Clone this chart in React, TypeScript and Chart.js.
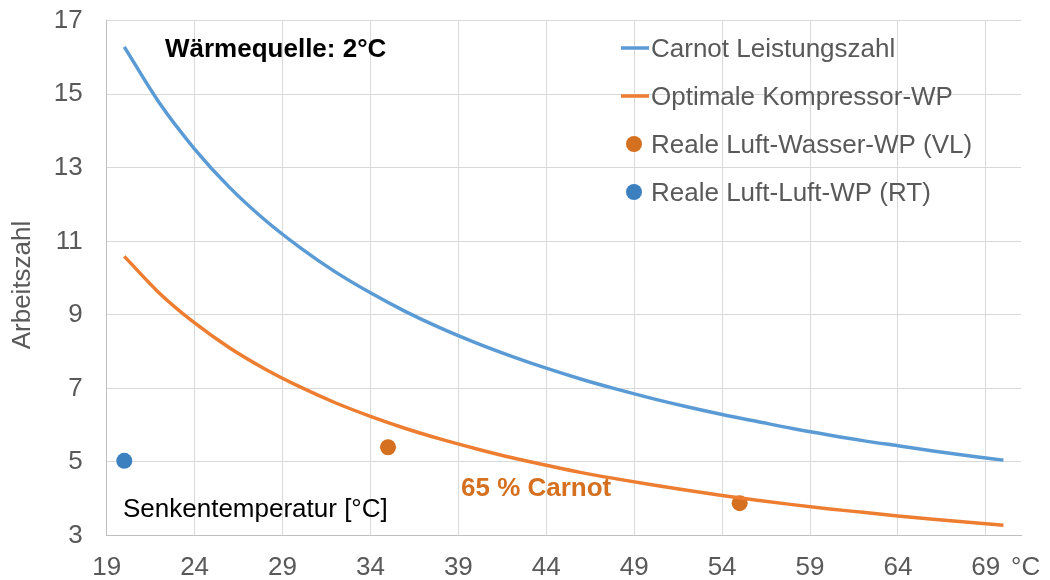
import { useEffect, useRef } from "react";
import { Chart, registerables } from "chart.js";

Chart.register(...registerables);

const FONT = '"Liberation Sans", Arial, Helvetica, sans-serif';

// Sink temperature (°C) and coefficients of performance
const sinkTemps = [20, 22, 24, 26, 28, 30, 32, 34, 36, 38, 40, 42, 44, 46, 48, 50, 52, 54, 56, 58, 60, 62, 64, 66, 68, 70];
const carnotCOP = [16.29, 14.76, 13.51, 12.46, 11.58, 10.83, 10.17, 9.6, 9.09, 8.64, 8.24, 7.88, 7.55, 7.25, 6.98, 6.73, 6.5, 6.29, 6.1, 5.91, 5.74, 5.58, 5.44, 5.3, 5.17, 5.05];
const optimalCOP = [10.59, 9.59, 8.78, 8.1, 7.53, 7.04, 6.61, 6.24, 5.91, 5.62, 5.36, 5.12, 4.91, 4.71, 4.54, 4.38, 4.23, 4.09, 3.96, 3.84, 3.73, 3.63, 3.53, 3.44, 3.36, 3.28];
const airWaterTemps = [35, 55];
const airWaterCOP = [5.4, 3.88];
const airAirTemps = [20];
const airAirCOP = [5.03];

const xTicks = [19, 24, 29, 34, 39, 44, 49, 54, 59, 64, 69];
const yTicks = [3, 5, 7, 9, 11, 13, 15, 17];

const seriesLabels = [
  "Carnot Leistungszahl",
  "Optimale Kompressor-WP",
  "Reale Luft-Wasser-WP (VL)",
  "Reale Luft-Luft-WP (RT)",
];

const BLUE_LINE = "#5B9BD5";
const ORANGE_LINE = "#ED7D31";
const ORANGE_DOT = "#D4701F";
const BLUE_DOT = "#3C80C0";
const GRAY_TEXT = "#595959";

const zip = (xs: number[], ys: number[]) => xs.map((x, i) => ({ x, y: ys[i] }));

const annotationPlugin = {
  id: "annotations",
  afterDatasetsDraw(chart: any) {
    const ctx = chart.ctx as CanvasRenderingContext2D;
    ctx.save();
    ctx.textBaseline = "alphabetic";
    ctx.textAlign = "left";

    ctx.fillStyle = "#000000";
    ctx.font = `bold 26px ${FONT}`;
    ctx.fillText("Wärmequelle: 2°C", 165, 57);

    ctx.font = `26px ${FONT}`;
    ctx.fillText("Senkentemperatur [°C]", 123, 517);

    ctx.fillStyle = ORANGE_DOT;
    ctx.font = `bold 26px ${FONT}`;
    ctx.fillText("65 % Carnot", 461, 496);

    // x axis unit
    ctx.fillStyle = GRAY_TEXT;
    ctx.font = `26px ${FONT}`;
    ctx.fillText("°C", 1011, 575);

    // y axis title
    ctx.save();
    ctx.translate(23, 285);
    ctx.rotate(-Math.PI / 2);
    ctx.textAlign = "center";
    ctx.textBaseline = "middle";
    ctx.fillStyle = GRAY_TEXT;
    ctx.font = `26px ${FONT}`;
    ctx.fillText("Arbeitszahl", 0, 0);
    ctx.restore();

    // legend
    const rows = [57, 105, 153, 201];
    ctx.font = `26px ${FONT}`;
    seriesLabels.forEach((label, i) => {
      const base = rows[i];
      const mid = base - 9;
      if (i < 2) {
        ctx.strokeStyle = i === 0 ? BLUE_LINE : ORANGE_LINE;
        ctx.lineWidth = 3.5;
        ctx.beginPath();
        ctx.moveTo(621, mid);
        ctx.lineTo(649, mid);
        ctx.stroke();
      } else {
        ctx.fillStyle = i === 2 ? ORANGE_DOT : BLUE_DOT;
        ctx.beginPath();
        ctx.arc(634, mid, 8, 0, Math.PI * 2);
        ctx.fill();
      }
      ctx.fillStyle = GRAY_TEXT;
      ctx.fillText(label, 651, base);
    });
    ctx.restore();
  },
};

export default function App() {
  const canvasRef = useRef<HTMLCanvasElement | null>(null);

  useEffect(() => {
    if (!canvasRef.current) return;
    const chart = new Chart(canvasRef.current, {
      type: "line",
      data: {
        datasets: [
          {
            label: seriesLabels[0],
            data: zip(sinkTemps, carnotCOP),
            borderColor: BLUE_LINE,
            borderWidth: 3.5,
            pointRadius: 0,
            tension: 0.4,
            cubicInterpolationMode: "monotone",
            fill: false,
          },
          {
            label: seriesLabels[1],
            data: zip(sinkTemps, optimalCOP),
            borderColor: ORANGE_LINE,
            borderWidth: 3.5,
            pointRadius: 0,
            tension: 0.4,
            cubicInterpolationMode: "monotone",
            fill: false,
          },
          {
            label: seriesLabels[2],
            data: zip(airWaterTemps, airWaterCOP),
            showLine: false,
            pointRadius: 8,
            pointBackgroundColor: ORANGE_DOT,
            pointBorderWidth: 0,
            borderColor: ORANGE_DOT,
          },
          {
            label: seriesLabels[3],
            data: zip(airAirTemps, airAirCOP),
            showLine: false,
            pointRadius: 8,
            pointBackgroundColor: BLUE_DOT,
            pointBorderWidth: 0,
            borderColor: BLUE_DOT,
          },
        ],
      },
      options: {
        animation: false,
        responsive: true,
        maintainAspectRatio: false,
        layout: { padding: { top: 20.7, right: 29, left: 0, bottom: 0 } },
        plugins: {
          legend: { display: false },
          tooltip: { enabled: false },
        },
        scales: {
          x: {
            type: "linear",
            min: 19,
            max: 71,
            afterBuildTicks: (scale: any) => {
              scale.ticks = xTicks.map((v) => ({ value: v }));
            },
            afterFit: (scale: any) => {
              scale.height = 44.5;
              scale.paddingLeft = 0;
              scale.paddingRight = 0;
            },
            ticks: {
              autoSkip: false,
              maxRotation: 0,
              padding: 17,
              color: GRAY_TEXT,
              font: { family: FONT, size: 26 },
              callback: (v: any) => String(v),
            },
            grid: { drawTicks: false, color: "#D9D9D9", lineWidth: 1 },
            border: { color: "#BFBFBF", width: 1 },
          },
          y: {
            type: "linear",
            min: 3,
            max: 17,
            afterBuildTicks: (scale: any) => {
              scale.ticks = yTicks.map((v) => ({ value: v }));
            },
            afterFit: (scale: any) => {
              scale.width = 106.7;
              scale.paddingTop = 0;
              scale.paddingBottom = 0;
            },
            ticks: {
              autoSkip: false,
              padding: 24,
              color: GRAY_TEXT,
              font: { family: FONT, size: 26 },
            },
            grid: { drawTicks: false, color: "#D9D9D9", lineWidth: 1 },
            border: { color: "#BFBFBF", width: 1 },
          },
        },
      },
      plugins: [annotationPlugin],
    } as any);
    return () => chart.destroy();
  }, []);

  return (
    <div style={{ position: "fixed", left: 0, top: 0, width: 1050, height: 580, background: "#fff" }}>
      <canvas ref={canvasRef} />
    </div>
  );
}
